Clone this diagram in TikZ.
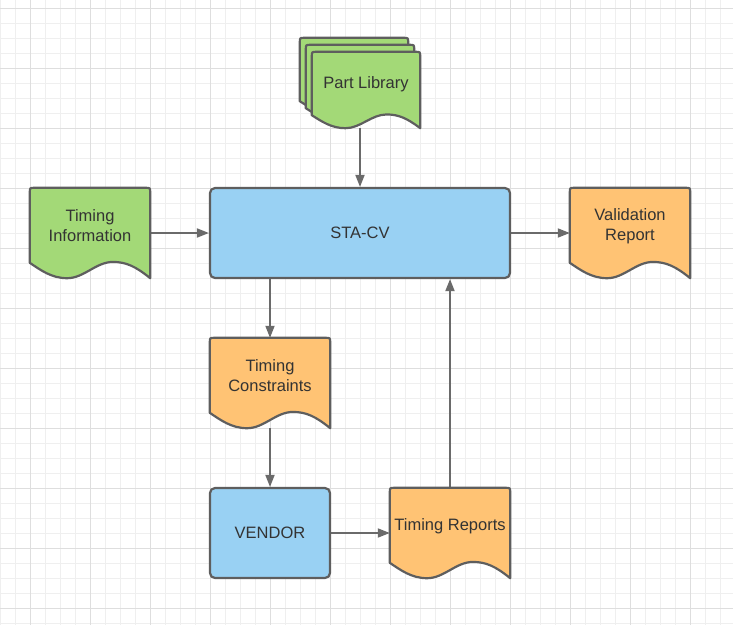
\documentclass[tikz,border=0pt]{standalone}
\usepackage{fontspec}
\setmainfont{Liberation Sans}
\usetikzlibrary{arrows.meta, calc}
\definecolor{docGreen}{HTML}{A3D977}
\definecolor{procBlue}{HTML}{99D1F3}
\definecolor{docOrange}{HTML}{FFC374}
\definecolor{edgeGray}{HTML}{5E5E5E}
\definecolor{arrowGray}{HTML}{6A6A6A}
\definecolor{inkGray}{HTML}{333333}
\definecolor{gridMinor}{HTML}{EFEFEF}
\definecolor{gridMajor}{HTML}{DEDEDE}

\pgfdeclarelayer{gridlayer}
\pgfdeclarelayer{background}
\pgfdeclarelayer{shapelayer}
\pgfsetlayers{gridlayer,background,shapelayer,main}

\newcommand{\labelfont}{\fontsize{16.5}{20}\selectfont}

% document outline (wavy bottom) around a named node
\newcommand{\docshape}[2]{%
  \filldraw[draw=edgeGray, line width=2.2pt, line join=round, fill=#2]
    let \p1=(#1.north west), \p2=(#1.south east), \n1={\x2-\x1}, \n2={\y1-\y2} in
    (\x1,{\y2+0.17*\n2}) -- (\x1,{\y1-5pt}) .. controls (\x1,\y1) .. ({\x1+5pt},\y1)
    -- ({\x2-5pt},\y1) .. controls (\x2,\y1) .. (\x2,{\y1-5pt})
    -- (\x2,\y2)
    .. controls ({\x2-0.12*\n1},{\y2+0.13*\n2}) and ({\x2-0.2*\n1},{\y2+0.18*\n2}) .. ({\x1+0.69*\n1},{\y2+0.18*\n2})
    .. controls ({\x1+0.55*\n1},{\y2+0.18*\n2}) and ({\x1+0.45*\n1},\y2) .. ({\x1+0.31*\n1},\y2)
    .. controls ({\x1+0.18*\n1},\y2) and ({\x1+0.09*\n1},{\y2+0.09*\n2}) .. (\x1,{\y2+0.17*\n2})
    -- cycle;
}

\begin{document}
\begin{tikzpicture}[x=1pt, y=-1pt,
    proc/.style={draw=edgeGray, line width=2.2pt, rounded corners=5pt, fill=procBlue, minimum width=120pt, minimum height=90pt, inner sep=0pt, font=\labelfont, text=inkGray},
    docbox/.style={minimum width=120pt, minimum height=90pt, inner sep=0pt},
    doctext/.style={font=\labelfont, text=inkGray, align=center, yshift=7pt},
    flow/.style={draw=arrowGray, line width=1.8pt, -{Triangle[length=12pt, width=9pt]}},
]
    \useasboundingbox (0,0) rectangle (733,625);

    % Grid
    \begin{pgfonlayer}{gridlayer}
        \fill[white] (0,0) rectangle (733,625);
        \foreach \gx in {0,15,...,730} \draw[gridMinor, line width=1pt] (\gx,0) -- (\gx,625);
        \foreach \gy in {8,23,...,623} \draw[gridMinor, line width=1pt] (0,\gy) -- (733,\gy);
        \foreach \gx in {30,90,...,730} \draw[gridMajor, line width=1pt] (\gx,0) -- (\gx,625);
        \foreach \gy in {8,68,...,623} \draw[gridMajor, line width=1pt] (0,\gy) -- (733,\gy);
    \end{pgfonlayer}

    % Process boxes
    \node[proc, minimum width=300pt] (stacv) at (360,233) {STA-CV};
    \node[proc] (vendor) at (270,533) {VENDOR};

    % Documents
    \node[docbox] (tinfo) at (90,233) [label={[doctext]center:{Timing\\Information}}] {};
    \node[docbox] (vrep) at (630,233) [label={[doctext]center:{Validation\\Report}}] {};
    \node[docbox] (tcon) at (270,383) [label={[doctext]center:{Timing\\Constraints}}] {};
    \node[docbox] (trep) at (450,533) [label={[doctext]center:{Timing Reports}}] {};

    % Part library (stacked documents)
    \node[docbox, minimum width=108pt, minimum height=76pt] (plibBack) at (354,76) {};
    \node[docbox, minimum width=108pt, minimum height=76pt] (plibMid) at (360,83) {};
    \node[docbox, minimum width=108pt, minimum height=76pt] (plib) at (366,90) [label={[doctext, yshift=-1pt]center:{Part Library}}] {};

    \begin{pgfonlayer}{shapelayer}
        \docshape{tinfo}{docGreen}
        \docshape{vrep}{docOrange}
        \docshape{tcon}{docOrange}
        \docshape{trep}{docOrange}
        \docshape{plibBack}{docGreen}
        \docshape{plibMid}{docGreen}
        \docshape{plib}{docGreen}
    \end{pgfonlayer}

    % Connectors
    \begin{pgfonlayer}{background}
        \draw[flow] (plib.south -| stacv.north) -- (stacv.north);
        \draw[flow] (tinfo.east) -- (stacv.west);
        \draw[flow] (stacv.east) -- (vrep.west);
        \draw[flow] (stacv.south -| tcon.north) -- (tcon.north);
        \draw[flow] (tcon.south) -- (vendor.north);
        \draw[flow] (vendor.east) -- (trep.west);
        \draw[flow] (trep.north) -- (trep.north |- stacv.south);
    \end{pgfonlayer}
\end{tikzpicture}
\end{document}
